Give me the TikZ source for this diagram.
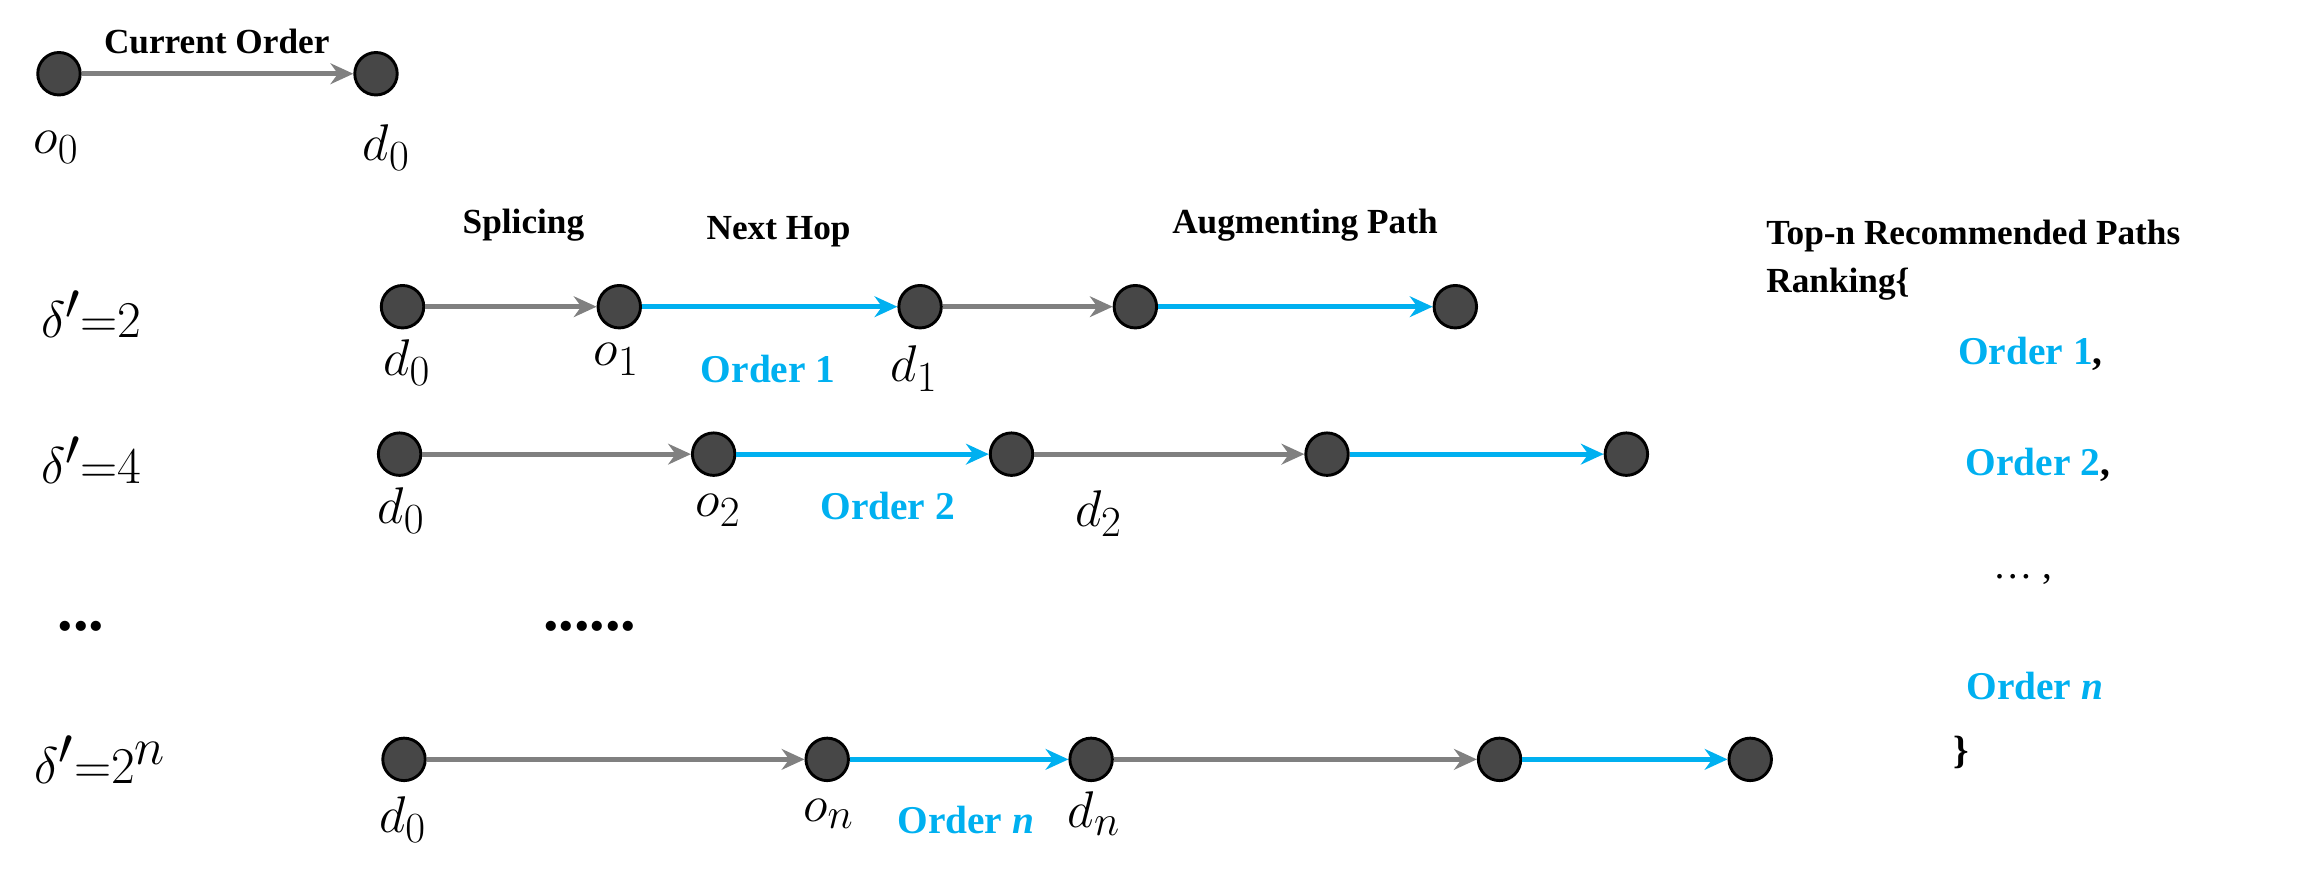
\documentclass[tikz,border=0pt]{standalone}
\usepackage{fontspec}
\setmainfont{Liberation Serif}
\usetikzlibrary{arrows.meta}
\definecolor{hopblue}{RGB}{0,176,240}
\definecolor{splgray}{RGB}{128,128,128}
\begin{document}
\begin{tikzpicture}[x=0.025cm,y=-0.025cm]
\tikzset{
  stop/.style={circle,draw=black,line width=1.4pt,fill=black!72,minimum size=0.72cm,inner sep=0pt},
  gray edge/.style={draw=splgray,line width=2.4pt,-{Stealth[length=11pt,width=10pt]}},
  blue edge/.style={draw=hopblue,line width=2.4pt,-{Stealth[length=11pt,width=10pt]}},
  head/.style={font=\fontsize{17}{20}\selectfont\bfseries},
  hop/.style={font=\fontsize{19}{22}\selectfont\bfseries,text=hopblue},
  sym/.style={font=\fontsize{32}{34}\selectfont},
  delta/.style={font=\fontsize{38}{40}\selectfont}
}
\useasboundingbox (0,0) rectangle (1568,595);
% current order
\node[stop] (o0) at (40,50) {};
\node[stop] (d0) at (255,50) {};
\draw[gray edge] (o0) -- (d0);
\node[head] at (147,28) {Current Order};
\node[sym] at (38,100) {$o_0$};
\node[sym] at (262,100) {$d_0$};
% headings
\node[head] at (355,153) {Splicing};
\node[head] at (528,157) {Next Hop};
\node[head] at (885,153) {Augmenting Path};
\node[head,anchor=west] at (1193,160) {Top-n Recommended Paths};
\node[head,anchor=west] at (1193,193) {Ranking\{};
% rows
\foreach \r/\y/\a/\b/\c/\d/\e in {1/208/273/420/624/770/987, 2/308/271/484/686/900/1103, 3/515/274/561/740/1017/1187}{
  \node[stop] (a\r) at (\a,\y) {};
  \node[stop] (b\r) at (\b,\y) {};
  \node[stop] (c\r) at (\c,\y) {};
  \node[stop] (d\r) at (\d,\y) {};
  \node[stop] (e\r) at (\e,\y) {};
  \draw[gray edge] (a\r) -- (b\r);
  \draw[blue edge] (b\r) -- (c\r);
  \draw[gray edge] (c\r) -- (d\r);
  \draw[blue edge] (d\r) -- (e\r);
}
\node[delta] at (62,213) {$\delta'{=}2$};
\node[delta] at (62,312) {$\delta'{=}4$};
\node[head,font=\fontsize{30}{32}\selectfont\bfseries] at (55,425) {...};
\node[head,font=\fontsize{30}{32}\selectfont\bfseries] at (400,425) {......};
\node[delta] at (68,515) {$\delta'{=}2^n$};
\node[sym] at (276,246) {$d_0$};
\node[sym] at (418,244) {$o_1$};
\node[hop] at (521,250) {Order 1};
\node[sym] at (620,250) {$d_1$};
\node[sym] at (272,346) {$d_0$};
\node[sym] at (487,346) {$o_2$};
\node[hop] at (602,343) {Order 2};
\node[sym] at (745,348) {$d_2$};
\node[sym] at (273,556) {$d_0$};
\node[sym] at (562,552) {$o_n$};
\node[hop] at (655,556) {Order \textit{n}};
\node[sym] at (742,552) {$d_n$};
% ranking list
\node[hop] at (1377,240) {Order 1\textcolor{black}{,}};
\node[hop] at (1382,315) {Order 2\textcolor{black}{,}};
\node[head] at (1372,393) {\fontsize{19}{22}\selectfont\mdseries\ldots\ ,};
\node[hop] at (1380,465) {Order \textit{n}};
\node[head] at (1330,510) {\fontsize{19}{22}\selectfont\}};
\end{tikzpicture}
\end{document}
